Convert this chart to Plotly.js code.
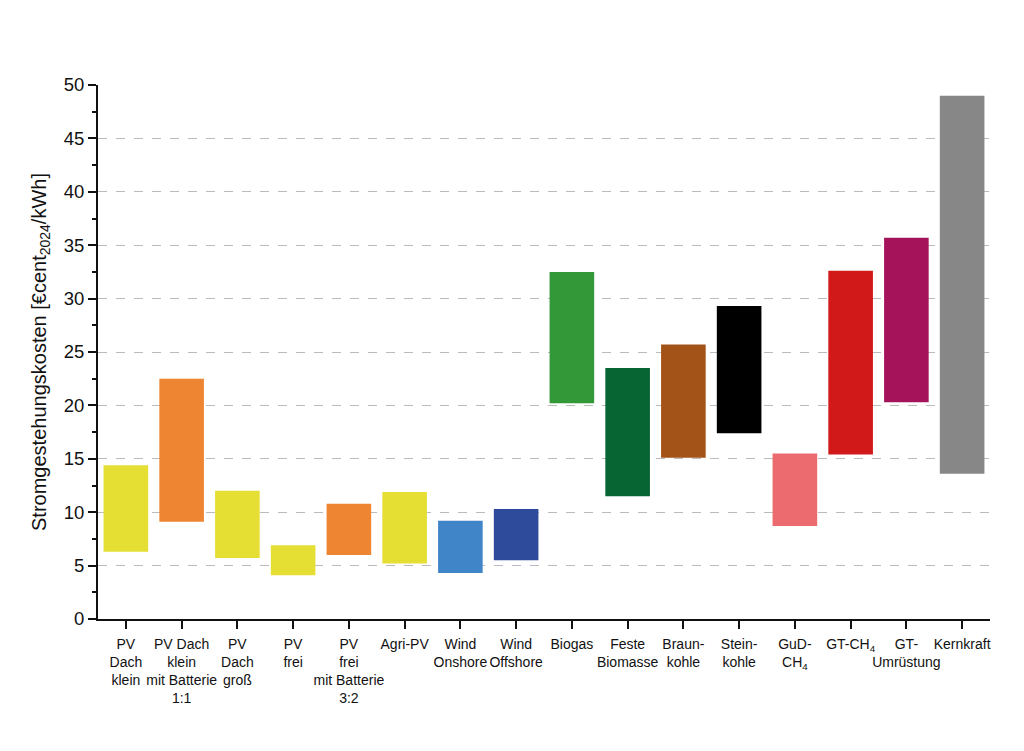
<!DOCTYPE html>
<html><head><meta charset="utf-8">
<script src="https://cdn.plot.ly/plotly-3.0.1.min.js"></script>
<style>body{margin:0;background:#fff}#c{width:1024px;height:751px}</style>
</head><body><div id="c"></div>
<script>
const categories = ["PV<br>Dach<br>klein","PV Dach<br>klein<br>mit Batterie<br>1:1","PV<br>Dach<br>groß","PV<br>frei","PV<br>frei<br>mit Batterie<br>3:2","Agri-PV","Wind<br>Onshore","Wind<br>Offshore","Biogas","Feste<br>Biomasse","Braun-<br>kohle","Stein-<br>kohle","GuD-<br>CH<sub>4</sub>","GT-CH<sub>4</sub>","GT-<br>Umrüstung","Kernkraft"];
const lowValues  = [6.3, 9.1, 5.7, 4.1, 6.0, 5.2, 4.3, 5.5, 20.2, 11.5, 15.1, 17.4, 8.7, 15.4, 20.3, 13.6];
const highValues = [14.4, 22.5, 12.0, 6.9, 10.8, 11.9, 9.2, 10.3, 32.5, 23.5, 25.7, 29.3, 15.5, 32.6, 35.7, 49.0];
const barColors = ["#E5DF33","#EE8533","#E5DF33","#E5DF33","#EE8533","#E5DF33","#3F85C8","#2E4A9A","#339838","#066533","#A35218","#000000","#EC6B6E","#D11919","#A5145A","#878787"];
const gridTicks = [5,10,15,20,25,30,35,40,45];

const idx = categories.map((c,i)=>i);
const trace = {
  type:'bar', x: idx, base: lowValues,
  y: highValues.map((h,i)=>h-lowValues[i]),
  width: 0.8, marker:{color: barColors, line:{width:0}},
  hoverinfo:'skip'
};
const gridTrace = {type:'scatter', x:[0], y:[0], yaxis:'y2', mode:'markers', marker:{opacity:0}, hoverinfo:'skip', showlegend:false};
const layout = {
  width:1024, height:751, showlegend:false,
  paper_bgcolor:'#fff', plot_bgcolor:'rgba(0,0,0,0)',
  margin:{l:98, r:34, t:85, b:132},
  font:{family:'"Liberation Sans", Arial, sans-serif', color:'#111'},
  xaxis:{range:[-0.5,15.5], tickmode:'array', tickvals:idx, ticktext:categories,
    showline:true, linecolor:'#111', linewidth:2, ticks:'outside', ticklen:8, tickwidth:2, tickcolor:'#111',
    showgrid:false, zeroline:false, tickfont:{size:14, color:'#111'}, tickangle:0, ticklabelstandoff:3, fixedrange:true},
  yaxis:{range:[0,50], dtick:5, showline:true, linecolor:'#111', linewidth:2,
    ticks:'outside', ticklen:8, tickwidth:2, tickcolor:'#111', showgrid:false, zeroline:false,
    minor:{dtick:2.5, ticks:'outside', ticklen:4, tickwidth:2, tickcolor:'#111', showgrid:false},
    tickfont:{size:18.5, color:'#111'},
    title:{text:'Stromgestehungskosten [€cent<sub>2024</sub>/kWh]', font:{size:20, color:'#111'}, standoff:12}},
  yaxis2:{range:[0,50], overlaying:'y', tickmode:'array', tickvals:gridTicks, showticklabels:false,
    showgrid:true, gridcolor:'#bbbbbb', griddash:'dash', gridwidth:1, zeroline:false, showline:false, ticks:''}
};
Plotly.newPlot('c', [gridTrace, trace], layout, {displayModeBar:false, staticPlot:true});
</script></body></html>
